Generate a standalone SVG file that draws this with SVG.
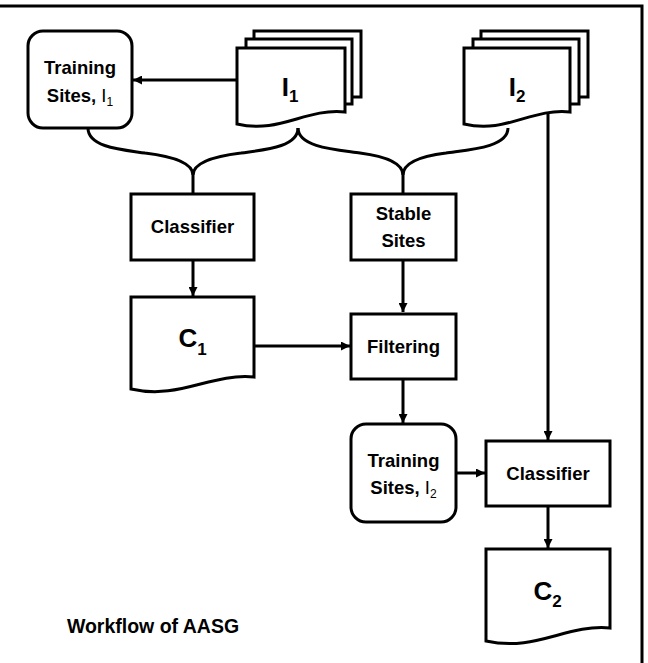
<svg xmlns="http://www.w3.org/2000/svg" width="648" height="663" viewBox="0 0 648 663">
<style>
.s{fill:#fff;stroke:#000;stroke-width:3;stroke-linejoin:miter}
.c{fill:none;stroke:#000;stroke-width:3}
.t{font-family:"Liberation Sans",Arial,sans-serif;font-weight:bold;font-size:18.5px;fill:#000;text-anchor:middle}
.big{font-family:"Liberation Sans",Arial,sans-serif;font-weight:bold;font-size:26px;fill:#000;text-anchor:middle}
.sub{font-size:17px}
.reg{font-weight:normal}
.cap{font-size:19.5px}
</style>
<defs>
<marker id="ah" viewBox="0 0 10 10" refX="10" refY="5" markerWidth="10" markerHeight="9" markerUnits="userSpaceOnUse" orient="auto">
<path d="M0,0 L10,5 L0,10 Z" fill="#000"/>
</marker>
</defs>
<rect width="648" height="663" fill="#fff"/>
<g id="frame">
<path class="c" d="M0,6 H642 V663"/>
</g>
<g id="ts1">
<rect class="s" x="28" y="31" width="104" height="97" rx="15"/>
<text class="t" x="80" y="74">Training</text>
<text class="t" x="80" y="102">Sites, <tspan class="reg">I</tspan><tspan class="reg" font-size="12" dy="4">1</tspan></text>
</g>
<g id="i1">
<rect class="s" x="254" y="31" width="107" height="66"/>
<rect class="s" x="246" y="39" width="106" height="65"/>
<path class="s" d="M237,48 H345 V112 C305,108 280,134 237,124 Z"/>
<text class="big" x="290" y="96">I<tspan class="sub" dy="6">1</tspan></text>
</g>
<g id="i2">
<rect class="s" x="481" y="31" width="107" height="66"/>
<rect class="s" x="473" y="39" width="106" height="65"/>
<path class="s" d="M464,48 H570 V112 C531,108 506,134 464,124 Z"/>
<text class="big" x="517" y="96">I<tspan class="sub" dy="6">2</tspan></text>
</g>
<g id="classifier1">
<rect class="s" x="131" y="194" width="123" height="66"/>
<text class="t" x="192.5" y="233">Classifier</text>
</g>
<g id="stable">
<rect class="s" x="351" y="194" width="105" height="66"/>
<text class="t" x="403.5" y="220">Stable</text>
<text class="t" x="403.5" y="247">Sites</text>
</g>
<g id="c1">
<path class="s" d="M131,297 H254 V377 C210,373 180,400 131,389 Z"/>
<text class="big" x="192.5" y="347">C<tspan class="sub" dy="8">1</tspan></text>
</g>
<g id="filtering">
<rect class="s" x="351" y="314" width="105" height="65"/>
<text class="t" x="403.5" y="353">Filtering</text>
</g>
<g id="ts2">
<rect class="s" x="351" y="424" width="105" height="98" rx="15"/>
<text class="t" x="403.5" y="467">Training</text>
<text class="t" x="403.5" y="494">Sites, <tspan class="reg">I</tspan><tspan class="reg" font-size="12" dy="4">2</tspan></text>
</g>
<g id="classifier2">
<rect class="s" x="486" y="441" width="124" height="65"/>
<text class="t" x="548" y="480">Classifier</text>
</g>
<g id="c2">
<path class="s" d="M486,549 H610 V628 C566,624 536,652 486,641 Z"/>
<text class="big" x="547.5" y="600">C<tspan class="sub" dy="7">2</tspan></text>
</g>
<g id="caption">
<text class="t cap" x="153" y="633">Workflow of AASG</text>
</g>
<g id="connectors">
<path class="c" d="M237,80 H133" marker-end="url(#ah)"/>
<path class="c" d="M88,128 C88,148 125,150 145,153 C178,157 193,165 193,175 L193,194"/>
<path class="c" d="M298,128 C298,148 261,150 241,153 C208,157 193,165 193,175"/>
<path class="c" d="M298,128 C298,148 340,150 360,153 C390,157 403,165 403,175 L403,194"/>
<path class="c" d="M508,128 C508,148 466,150 446,153 C414,157 403,165 403,175"/>
<path class="c" d="M193,260 V296" marker-end="url(#ah)"/>
<path class="c" d="M403,260 V312" marker-end="url(#ah)"/>
<path class="c" d="M254,346 H350" marker-end="url(#ah)"/>
<path class="c" d="M403,379 V423" marker-end="url(#ah)"/>
<path class="c" d="M456,473 H485" marker-end="url(#ah)"/>
<path class="c" d="M548,113 V440" marker-end="url(#ah)"/>
<path class="c" d="M548,506 V548" marker-end="url(#ah)"/>
</g>
</svg>
